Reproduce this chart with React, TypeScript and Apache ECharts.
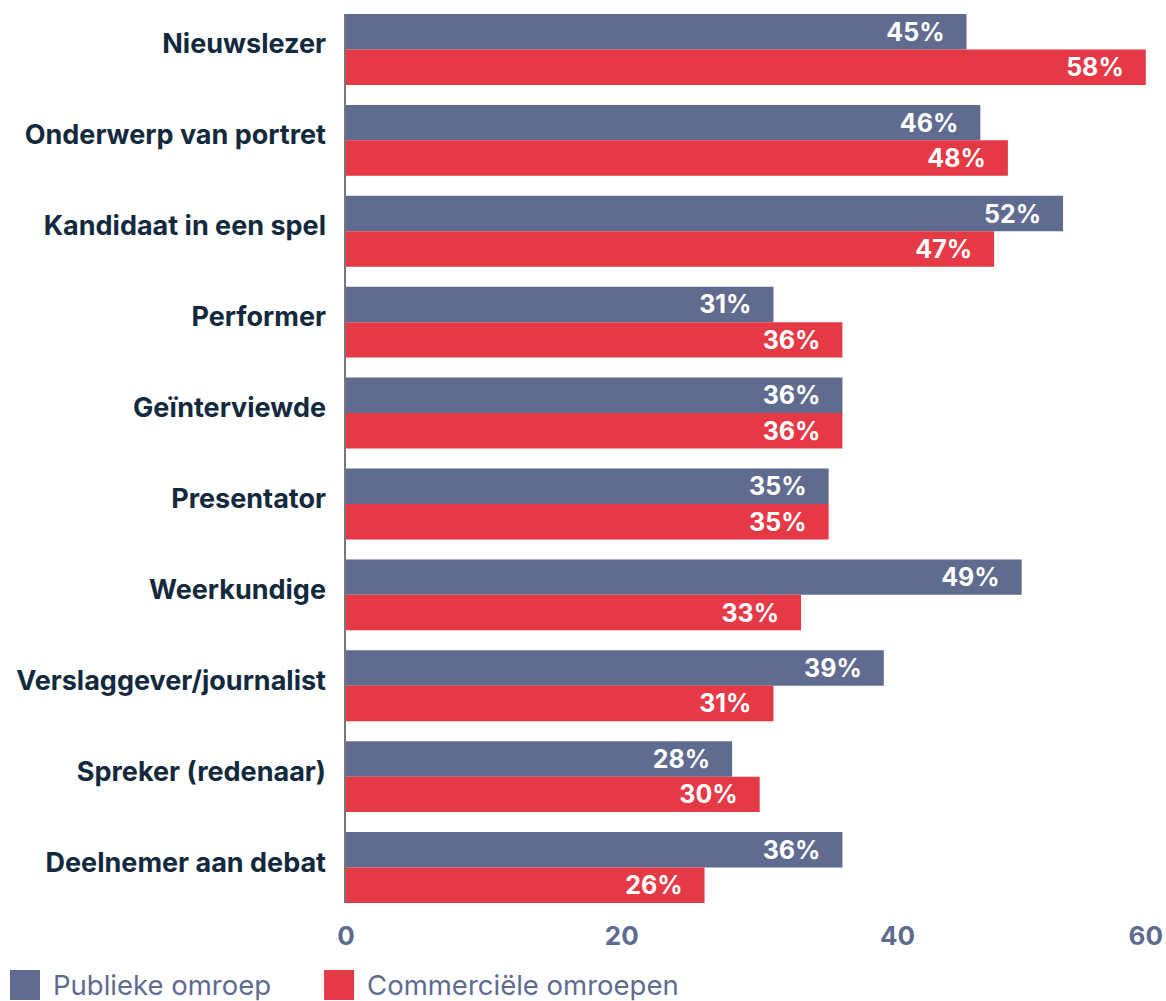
import React, { useEffect, useRef } from "react";
import * as echarts from "echarts";

const categories = [
  "Nieuwslezer",
  "Onderwerp van portret",
  "Kandidaat in een spel",
  "Performer",
  "Geïnterviewde",
  "Presentator",
  "Weerkundige",
  "Verslaggever/journalist",
  "Spreker (redenaar)",
  "Deelnemer aan debat",
];
const publiek = [45, 46, 52, 31, 36, 35, 49, 39, 28, 36];
const commercieel = [58, 48, 47, 36, 36, 35, 33, 31, 30, 26];
const seriesNames = ["Publieke omroep", "Commerciële omroepen"];
const tickLabels: Record<number, string> = { 0: "0", 20: "20", 40: "40", 58: "60" };

const FONT = "Inter, 'Noto Sans', sans-serif";
const BLUE = "#5f6b8f";
const RED = "#e63946";

export default function App() {
  const ref = useRef<HTMLDivElement>(null);
  useEffect(() => {
    const chart = echarts.init(ref.current!, null, { renderer: "svg" });
    const labelCfg = {
      show: true,
      position: "insideRight",
      distance: 22,
      color: "#ffffff",
      fontFamily: FONT,
      fontWeight: 700,
      fontSize: 25,
      formatter: (p: any) => `${p.value}%`,
    };
    chart.setOption({
      animation: false,
      textStyle: { fontFamily: FONT },
      grid: { left: 346, right: 18, top: 4, height: 909, containLabel: false },
      legend: {
        left: 10,
        top: 970,
        padding: 0,
        itemWidth: 30,
        itemHeight: 30,
        itemGap: 53,
        icon: "rect",
        textStyle: { color: BLUE, fontSize: 27.5, fontFamily: FONT, padding: [3, 0, 0, 8] },
        data: seriesNames,
      },
      xAxis: {
        type: "value",
        min: 0,
        max: 58,
        interval: 20,
        axisLine: { show: false },
        axisTick: { show: false },
        splitLine: { show: false },
        axisLabel: {
          showMaxLabel: true,
          margin: 9,
          color: BLUE,
          fontSize: 26,
          fontWeight: 700,
          fontFamily: FONT,
          formatter: (v: number) => tickLabels[v] ?? "",
        },
      },
      yAxis: {
        type: "category",
        inverse: true,
        data: categories,
        axisLine: { show: false },
        axisTick: { show: false },
        axisLabel: {
          margin: 20,
          color: "#13293d",
          fontSize: 27,
          fontWeight: 700,
          fontFamily: FONT,
          verticalAlign: "bottom",
          lineHeight: 11,
        },
      },
      series: [
        {
          name: seriesNames[0],
          type: "bar",
          data: publiek,
          barGap: "0%",
          barCategoryGap: "22%",
          itemStyle: { color: BLUE },
          label: labelCfg,
        },
        {
          name: seriesNames[1],
          type: "bar",
          data: commercieel,
          barGap: "0%",
          barCategoryGap: "22%",
          itemStyle: { color: RED },
          label: labelCfg,
        },
      ],
    });
    // zero line spanning only the bars' extent, located through the chart's scales
    const firstLayout: any = chart.getModel().getSeriesByIndex(0).getData().getItemLayout(0);
    const lastLayout: any = chart
      .getModel()
      .getSeriesByIndex(1)
      .getData()
      .getItemLayout(categories.length - 1);
    const x0 = chart.convertToPixel({ xAxisIndex: 0 }, 0) as number;
    if (firstLayout && lastLayout) {
      const yTop = Math.min(firstLayout.y, firstLayout.y + firstLayout.height);
      const yBot = Math.max(lastLayout.y, lastLayout.y + lastLayout.height);
      chart.setOption({
        graphic: [
          {
            type: "line",
            z: 100,
            shape: { x1: x0 - 1, y1: yTop, x2: x0 - 1, y2: yBot },
            style: { stroke: "#777777", lineWidth: 2 },
          },
        ],
      });
    }
    return () => chart.dispose();
  }, []);
  return (
    <div
      ref={ref}
      style={{ width: 1166, height: 1001, position: "absolute", left: 0, top: 0 }}
    />
  );
}
